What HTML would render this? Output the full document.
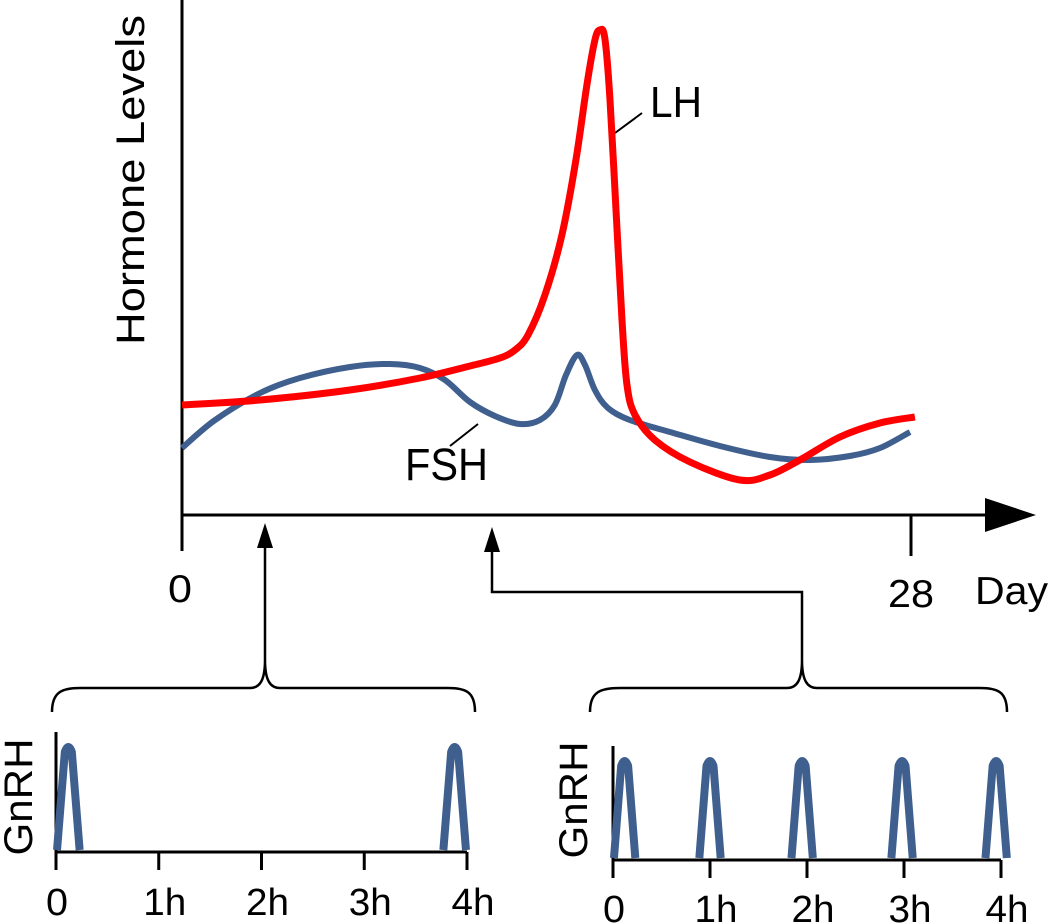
<!DOCTYPE html>
<html><head><meta charset="utf-8">
<style>
html,body{margin:0;padding:0;background:#fff;}
svg{display:block;font-family:"Liberation Sans",Arial,sans-serif;}
</style></head>
<body>
<svg id="chart" width="1050" height="923" viewBox="0 0 1050 923">
  <g id="main">
    <line x1="182" y1="0" x2="182" y2="551" stroke="#000" stroke-width="3"/>
    <line x1="182" y1="515" x2="990" y2="515" stroke="#000" stroke-width="3"/>
    <polygon points="985,498 1036,515 985,532" fill="#000"/>
    <line x1="911" y1="515" x2="911" y2="556" stroke="#000" stroke-width="3"/>
    <text x="180" y="602" font-size="39" text-anchor="middle" textLength="24" lengthAdjust="spacingAndGlyphs">0</text>
    <text x="911" y="607" font-size="39" text-anchor="middle" textLength="46" lengthAdjust="spacingAndGlyphs">28</text>
    <text x="975" y="604" font-size="39" textLength="73" lengthAdjust="spacingAndGlyphs">Day</text>
    <text transform="translate(144,180) rotate(-90)" font-size="40" text-anchor="middle" textLength="330" lengthAdjust="spacingAndGlyphs">Hormone Levels</text>
    <text x="650" y="117" font-size="44" textLength="52" lengthAdjust="spacingAndGlyphs">LH</text>
    <line x1="615" y1="133" x2="642" y2="113" stroke="#000" stroke-width="2"/>
    <text x="405" y="480" font-size="45" textLength="83" lengthAdjust="spacingAndGlyphs">FSH</text>
    <line x1="450" y1="446" x2="478" y2="424" stroke="#000" stroke-width="2"/>
    <g id="series"></g>
    <line x1="265" y1="535" x2="265" y2="660" stroke="#000" stroke-width="2.5"/>
    <polygon points="265,523 257,548 273,548" fill="#000"/>
    <polyline points="492,538 492,592 802,592 802,660" fill="none" stroke="#000" stroke-width="2.5"/>
    <polygon points="492,527 484,552 500,552" fill="#000"/>
  </g>
  <path d="M52,712 C52,692 62,688 80,688 L250,688 C260,688 265,680 265,660 C265,680 270,688 280,688 L448,688 C466,688 475,692 475,712" fill="none" stroke="#000" stroke-width="2.5"/>
  <path d="M590,712 C590,692 600,688 620,688 L787,688 C797,688 802,680 802,660 C802,680 807,688 817,688 L980,688 C998,688 1007,692 1007,712" fill="none" stroke="#000" stroke-width="2.5"/>
  <g id="panels"></g>
</svg>
<script>
// Main chart data (day, arbitrary hormone level)
const lhDays = [0,3.0,6.45,9.14,11.06,12.21,12.79,13.29,13.94,14.59,15.13,15.55,15.86,16.05,16.24,16.44,16.67,16.90,17.09,17.40,18.16,19.51,21.43,22.58,23.73,25.27,26.81,28.15];
const lhLevels = [110,115,125,137,149,157,165,180,220,280,355,430,475,485,477,415,305,195,130,100,75,53,35,40,55,78,92,98];
const fshDays = [0,1.27,3.0,4.53,6.45,7.99,9.14,10.10,11.06,12.02,12.98,13.75,14.32,14.75,15.17,15.48,15.86,16.36,17.20,18.74,20.66,22.58,24.12,25.65,26.81,27.96];
const fshLevels = [67,95,122,137,148,151,147,135,113,99,91,95,110,140,160,150,125,107,95,83,69,58,55,59,67,83];
// GnRH pulse times (hours)
const pulsesLow = [0.12,3.88];
const pulsesHigh = [0.12,1.0,1.95,2.98,3.95];
const hourTicks = ["0","1h","2h","3h","4h"];

const NS="http://www.w3.org/2000/svg";
const xDay = d => 182 + d*(911-182)/28;
const yLev = v => 515 - v;

function smooth(pts){
  let d="M"+pts[0][0].toFixed(1)+","+pts[0][1].toFixed(1);
  for(let i=0;i<pts.length-1;i++){
    const p0=pts[Math.max(0,i-1)],p1=pts[i],p2=pts[i+1],p3=pts[Math.min(pts.length-1,i+2)];
    const c1=[p1[0]+(p2[0]-p0[0])/6,p1[1]+(p2[1]-p0[1])/6];
    const c2=[p2[0]-(p3[0]-p1[0])/6,p2[1]-(p3[1]-p1[1])/6];
    d+=" C"+c1[0].toFixed(1)+","+c1[1].toFixed(1)+" "+c2[0].toFixed(1)+","+c2[1].toFixed(1)+" "+p2[0].toFixed(1)+","+p2[1].toFixed(1);
  }
  return d;
}
const series=document.getElementById("series");
const fshPath=document.createElementNS(NS,"path");
fshPath.setAttribute("d",smooth(fshDays.map((d,i)=>[xDay(d),yLev(fshLevels[i])])));
fshPath.setAttribute("fill","none");fshPath.setAttribute("stroke","#3f5f8e");fshPath.setAttribute("stroke-width","6");


series.appendChild(fshPath);
const lhPath=document.createElementNS(NS,"path");
lhPath.setAttribute("d",smooth(lhDays.map((d,i)=>[xDay(d),yLev(lhLevels[i])])));
lhPath.setAttribute("fill","none");lhPath.setAttribute("stroke","#ff0000");lhPath.setAttribute("stroke-width","7");


series.appendChild(lhPath);

const panels=document.getElementById("panels");
function panel(x0,x1,yTop,yBase,pulses,label,labelX,labelY,labelBase,name){
  const g=document.createElementNS(NS,"g");
  
  
  const xs=h=>x0+h*(x1-x0)/4;
  const ya=document.createElementNS(NS,"line");
  ya.setAttribute("x1",x0);ya.setAttribute("x2",x0);ya.setAttribute("y1",yTop);ya.setAttribute("y2",yBase+18);
  ya.setAttribute("stroke","#000");ya.setAttribute("stroke-width","3");
  
  
  g.appendChild(ya);
  const xa=document.createElementNS(NS,"line");
  xa.setAttribute("x1",x0);xa.setAttribute("x2",x1);xa.setAttribute("y1",yBase);xa.setAttribute("y2",yBase);
  xa.setAttribute("stroke","#000");xa.setAttribute("stroke-width","3");
  
  
  g.appendChild(xa);
  hourTicks.forEach((t,i)=>{
    const tk=document.createElementNS(NS,"line");
    tk.setAttribute("x1",xs(i));tk.setAttribute("x2",xs(i));tk.setAttribute("y1",yBase);tk.setAttribute("y2",yBase+18);
    tk.setAttribute("stroke","#000");tk.setAttribute("stroke-width","3");
    
    
    g.appendChild(tk);
    const tx=document.createElementNS(NS,"text");
    tx.setAttribute("x",xs(i)+(i===0?1:6));tx.setAttribute("y",labelBase);tx.setAttribute("font-size","38");tx.setAttribute("text-anchor","middle");
    tx.setAttribute("textLength",i===0?22:43);tx.setAttribute("lengthAdjust","spacingAndGlyphs");
    tx.textContent=t;
    
    
    g.appendChild(tx);
  });
  const hw=(x1-x0)*0.11/4;
  pulses.forEach(p=>{
    const cx=xs(p);
    const pk=document.createElementNS(NS,"path");
    const pt=yTop+14;
    pk.setAttribute("d",`M${cx-hw},${yBase-2} L${cx-3.5},${pt+6} Q${cx},${pt-4} ${cx+3.5},${pt+6} L${cx+hw},${yBase-2}`);
    pk.setAttribute("fill","none");pk.setAttribute("stroke","#3f5f8e");pk.setAttribute("stroke-width","8");pk.setAttribute("stroke-linejoin","round");
    
    
    g.appendChild(pk);
  });
  const lb=document.createElementNS(NS,"text");
  lb.setAttribute("transform",`translate(${labelX},${labelY}) rotate(-90)`);
  lb.setAttribute("font-size","40");lb.setAttribute("text-anchor","middle");
  lb.setAttribute("textLength","117");lb.setAttribute("lengthAdjust","spacingAndGlyphs");
  lb.textContent=label;
  
  
  g.appendChild(lb);
  panels.appendChild(g);
}
panel(56,467,732,852,pulsesLow,"GnRH",32,797,915,"gnrh-panel-slow");
panel(613,1001,746,860,pulsesHigh,"GnRH",587,800,922,"gnrh-panel-fast");
</script>
</body></html>
